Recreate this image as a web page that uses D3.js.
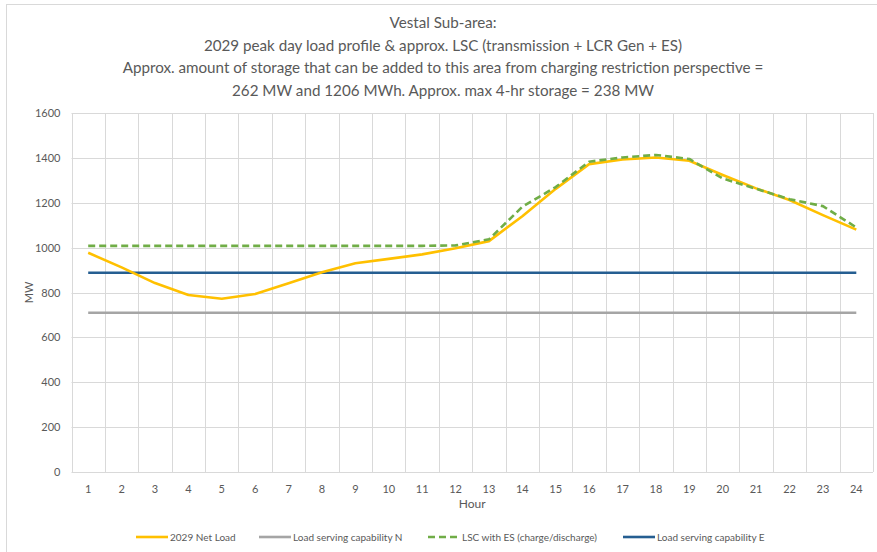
<!DOCTYPE html>
<html>
<head>
<meta charset="utf-8">
<script src="https://cdnjs.cloudflare.com/ajax/libs/d3/7.8.5/d3.min.js"></script>
<style>
  body { margin: 0; background: #fff; }
  svg { display: block; font-family: Lato, "Open Sans", sans-serif; }
</style>
</head>
<body>
<svg width="877" height="552"></svg>
<script>
var hours = d3.range(1, 25);
var netLoad = [977, 912, 842, 789, 772, 793, 841, 890, 930, 950, 970, 997,
               1029, 1140, 1262, 1372, 1393, 1402, 1387, 1324, 1264, 1212, 1145, 1080];
var lscES = [1008, 1008, 1008, 1008, 1008, 1008, 1008, 1008, 1008, 1008, 1008, 1010,
             1037, 1182, 1270, 1383, 1402, 1413, 1395, 1308, 1262, 1216, 1185, 1090];
var capN = 710;
var capE = 888;
var yTicks = [0, 200, 400, 600, 800, 1000, 1200, 1400, 1600];
var titleLines = [
  "Vestal Sub-area:",
  "2029 peak day load profile & approx. LSC (transmission + LCR Gen + ES)",
  "Approx. amount of storage that can be added to this area from charging restriction perspective =",
  "262 MW and 1206 MWh. Approx. max 4-hr storage = 238 MW"
];
var series = [
  {name: "2029 Net Load", color: "#ffc000", dash: null, values: netLoad},
  {name: "Load serving capability N", color: "#a5a5a5", dash: null, values: hours.map(function() { return capN; })},
  {name: "LSC with ES (charge/discharge)", color: "#70ad47", dash: "7,4", values: lscES},
  {name: "Load serving capability E", color: "#255e91", dash: null, values: hours.map(function() { return capE; })}
];

(function() {
  var svg = d3.select("svg");
  var plotLeft = 71.5, plotRight = 873, plotTop = 113, plotBottom = 472;

  // outer frame (only top and left edges visible)
  svg.append("rect").attr("x", 6.5).attr("y", 4.5).attr("width", 900).attr("height", 600)
    .attr("fill", "none").attr("stroke", "#d9d9d9");

  var x = d3.scaleBand().domain(hours).range([plotLeft, plotRight]);
  var y = d3.scaleLinear().domain([0, 1600]).range([plotBottom, plotTop]);
  var cx = function(h) { return x(h) + x.bandwidth() / 2; };

  // title
  svg.append("g").selectAll("text").data(titleLines).enter().append("text")
    .attr("x", 443).attr("y", function(d, i) { return 28 + i * 22.6; })
    .attr("text-anchor", "middle").attr("fill", "#595959").attr("font-size", 15.2)
    .text(function(d) { return d; });

  // gridlines
  var grid = svg.append("g").attr("stroke", "#d9d9d9").attr("stroke-width", 1);
  grid.selectAll("line.h").data(yTicks).enter().append("line")
    .attr("x1", plotLeft).attr("x2", plotRight)
    .attr("y1", function(d) { return Math.round(y(d)) + 0.5; })
    .attr("y2", function(d) { return Math.round(y(d)) + 0.5; });
  grid.selectAll("line.v").data(hours.concat([25])).enter().append("line")
    .attr("x1", function(d) { return Math.round(d === 25 ? plotRight : x(d)) + 0.5; })
    .attr("x2", function(d) { return Math.round(d === 25 ? plotRight : x(d)) + 0.5; })
    .attr("y1", plotTop).attr("y2", plotBottom);

  // axes
  var yAxis = svg.append("g").attr("transform", "translate(" + (plotLeft - 8) + ",0)")
    .call(d3.axisLeft(y).tickValues(yTicks).tickSize(0).tickFormat(d3.format("d")));
  yAxis.select(".domain").remove();
  yAxis.selectAll("text").attr("fill", "#595959").attr("font-size", 11).attr("font-family", "Lato, sans-serif");

  var xAxis = svg.append("g").attr("transform", "translate(0," + (plotBottom + 10) + ")")
    .call(d3.axisBottom(x).tickSize(0));
  xAxis.select(".domain").remove();
  xAxis.selectAll("text").attr("fill", "#595959").attr("font-size", 11).attr("font-family", "Lato, sans-serif");

  svg.append("text").attr("x", (plotLeft + plotRight) / 2).attr("y", 508)
    .attr("text-anchor", "middle").attr("fill", "#595959").attr("font-size", 12).text("Hour");
  svg.append("text").attr("transform", "translate(33," + ((plotTop + plotBottom) / 2) + ") rotate(-90)")
    .attr("text-anchor", "middle").attr("fill", "#595959").attr("font-size", 11).text("MW");

  // lines
  var line = d3.line().x(function(d, i) { return cx(hours[i]); }).y(function(d) { return y(d); });
  var order = [1, 3, 0, 2];
  svg.append("g").selectAll("path").data(order.map(function(i) { return series[i]; })).enter().append("path")
    .attr("d", function(d) { return line(d.values); })
    .attr("fill", "none").attr("stroke", function(d) { return d.color; })
    .attr("stroke-width", 2.6).attr("stroke-linejoin", "round")
    .attr("stroke-dasharray", function(d) { return d.dash; });

  // legend
  var legX = [136, 259, 428, 623];
  var leg = svg.append("g").selectAll("g").data(series).enter().append("g")
    .attr("transform", function(d, i) { return "translate(" + legX[i] + ",537)"; });
  leg.append("line").attr("x1", 0).attr("x2", 32).attr("y1", 0).attr("y2", 0)
    .attr("stroke", function(d) { return d.color; }).attr("stroke-width", 2.6)
    .attr("stroke-dasharray", function(d) { return d.dash; });
  leg.append("text").attr("x", 34).attr("y", 3.5).attr("fill", "#595959").attr("font-size", 10)
    .text(function(d) { return d.name; });
})();
</script>
</body>
</html>
